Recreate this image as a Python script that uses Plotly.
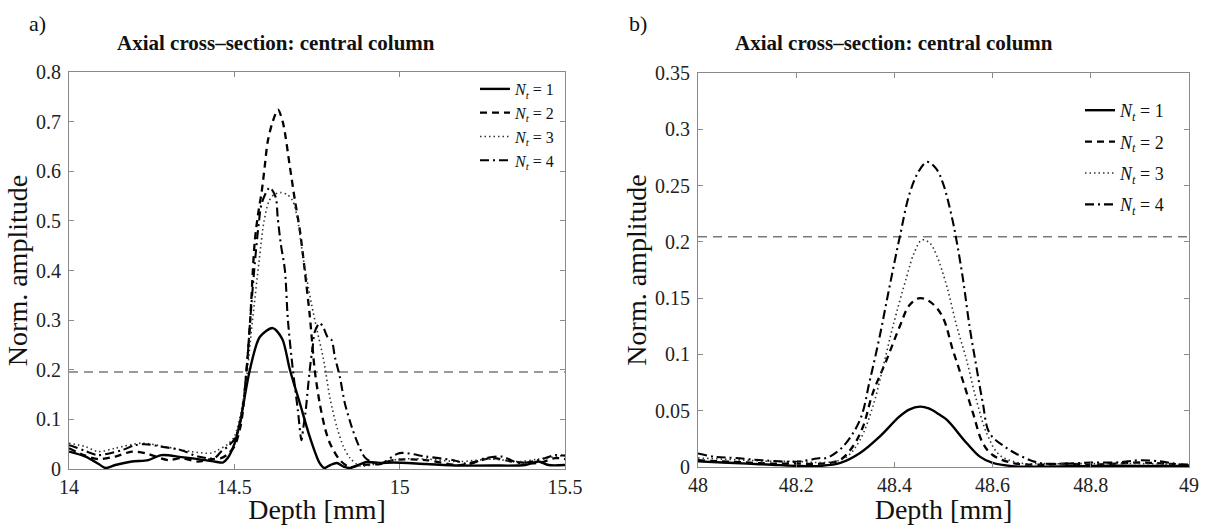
import plotly.graph_objects as go

# ---------------- panel a): depth 14 - 15.5 mm ----------------
a_depth_nt1 = [14.00, 14.05, 14.09, 14.11, 14.14, 14.19, 14.24, 14.28, 14.34, 14.39, 14.44, 14.465,
               14.48, 14.50, 14.517, 14.547, 14.577, 14.616, 14.645, 14.668, 14.698, 14.728, 14.758,
               14.773, 14.79, 14.81, 14.83, 14.85, 14.90, 14.94, 14.98, 15.08, 15.18, 15.28, 15.38,
               15.42, 15.45, 15.50]
a_amp_nt1 = [0.035, 0.025, 0.010, 0.002, 0.008, 0.015, 0.018, 0.028, 0.024, 0.020, 0.015, 0.013,
             0.022, 0.050, 0.093, 0.200, 0.266, 0.284, 0.262, 0.200, 0.133, 0.065, 0.012,
             0.002, 0.008, 0.012, 0.005, 0.002, 0.014, 0.012, 0.013, 0.010, 0.007, 0.007, 0.008,
             0.015, 0.008, 0.008]

a_depth_nt2 = [14.00, 14.045, 14.088, 14.14, 14.19, 14.23, 14.30, 14.34, 14.39, 14.43, 14.46, 14.48,
               14.50, 14.52, 14.537, 14.548, 14.556, 14.562, 14.571, 14.583, 14.592, 14.601, 14.616,
               14.632, 14.647, 14.668, 14.683, 14.698, 14.713, 14.728, 14.743, 14.758, 14.775,
               14.789, 14.819, 14.849, 14.88, 14.94, 14.98, 15.08, 15.18, 15.28, 15.34, 15.42,
               15.47, 15.50]
a_amp_nt2 = [0.042, 0.028, 0.020, 0.025, 0.035, 0.032, 0.018, 0.022, 0.015, 0.020, 0.022, 0.030,
             0.045, 0.090, 0.200, 0.300, 0.400, 0.460, 0.510, 0.560, 0.610, 0.660, 0.700,
             0.724, 0.698, 0.609, 0.542, 0.482, 0.400, 0.310, 0.200, 0.133, 0.080,
             0.052, 0.018, 0.004, 0.008, 0.010, 0.018, 0.018, 0.008, 0.022, 0.015, 0.012,
             0.022, 0.020]

a_depth_nt3 = [14.00, 14.05, 14.088, 14.14, 14.22, 14.29, 14.37, 14.43, 14.45, 14.48, 14.50, 14.53,
               14.555, 14.575, 14.59, 14.605, 14.62, 14.64, 14.66, 14.677, 14.692, 14.707, 14.72,
               14.734, 14.75, 14.77, 14.79, 14.81, 14.83, 14.85, 14.88, 14.94, 15.00, 15.08,
               15.18, 15.28, 15.36, 15.42, 15.50]
a_amp_nt3 = [0.052, 0.045, 0.035, 0.042, 0.052, 0.045, 0.035, 0.032, 0.038, 0.050, 0.065, 0.150,
             0.300, 0.420, 0.500, 0.540, 0.553, 0.557, 0.553, 0.540, 0.500, 0.430, 0.380,
             0.330, 0.280, 0.220, 0.140, 0.085, 0.045, 0.022, 0.006, 0.012, 0.020, 0.020,
             0.015, 0.020, 0.015, 0.020, 0.028]

a_depth_nt4 = [14.00, 14.015, 14.05, 14.088, 14.16, 14.20, 14.23, 14.28, 14.34, 14.39, 14.44, 14.46,
               14.48, 14.50, 14.52, 14.537, 14.548, 14.56, 14.574, 14.583, 14.607, 14.625, 14.631,
               14.64, 14.653, 14.662, 14.677, 14.692, 14.703, 14.708, 14.716, 14.728, 14.737,
               14.743, 14.758, 14.768, 14.782, 14.794, 14.804, 14.819, 14.834, 14.855, 14.873,
               14.894, 14.915, 14.94, 15.00, 15.08, 15.16, 15.21, 15.26, 15.31, 15.36, 15.42,
               15.47, 15.50]
a_amp_nt4 = [0.048, 0.045, 0.036, 0.028, 0.038, 0.048, 0.050, 0.045, 0.038, 0.025, 0.022, 0.035,
             0.045, 0.060, 0.100, 0.200, 0.300, 0.400, 0.496, 0.536, 0.567, 0.548, 0.508,
             0.456, 0.400, 0.300, 0.200, 0.119, 0.058, 0.080, 0.119, 0.200, 0.246,
             0.276, 0.294, 0.287, 0.266, 0.260, 0.226, 0.186, 0.133, 0.085, 0.052,
             0.024, 0.014, 0.010, 0.032, 0.025, 0.018, 0.010, 0.022, 0.025, 0.012, 0.018,
             0.028, 0.027]

a_threshold = 0.1955
a_xticks = [14, 14.5, 15, 15.5]
a_xticklabels = ["14", "14.5", "15", "15.5"]
a_yticks = [0, 0.1, 0.2, 0.3, 0.4, 0.5, 0.6, 0.7, 0.8]
a_yticklabels = ["0", "0.1", "0.2", "0.3", "0.4", "0.5", "0.6", "0.7", "0.8"]

# ---------------- panel b): depth 48 - 49 mm ----------------
b_depth_nt1 = [48.00, 48.05, 48.10, 48.15, 48.20, 48.25, 48.29, 48.33, 48.37, 48.41, 48.43, 48.452,
               48.47, 48.49, 48.507, 48.547, 48.574, 48.60, 48.64, 48.70, 48.80, 48.90, 49.00]
b_amp_nt1 = [0.005, 0.004, 0.003, 0.002, 0.001, 0.001, 0.0036, 0.0124, 0.027, 0.0447, 0.051, 0.0536,
             0.052, 0.047, 0.0418, 0.0213, 0.0092, 0.0036, 0.0008, 0.0003, 0.001, 0.001, 0.001]

b_depth_nt2 = [48.00, 48.05, 48.10, 48.15, 48.20, 48.25, 48.289, 48.315, 48.336, 48.356, 48.384,
               48.411, 48.431, 48.452, 48.475, 48.498, 48.519, 48.539, 48.56, 48.58, 48.60, 48.64,
               48.70, 48.75, 48.80, 48.85, 48.90, 48.95, 49.00]
b_amp_nt2 = [0.006, 0.005, 0.004, 0.003, 0.003, 0.003, 0.0062, 0.018, 0.0358, 0.0657, 0.095,
             0.125, 0.144, 0.150, 0.146, 0.1335, 0.104, 0.0773, 0.048, 0.0213, 0.0107, 0.0036,
             0.002, 0.003, 0.002, 0.003, 0.004, 0.003, 0.002]

b_depth_nt3 = [48.00, 48.05, 48.10, 48.15, 48.20, 48.24, 48.275, 48.303, 48.33, 48.356, 48.377,
               48.397, 48.425, 48.44, 48.456, 48.472, 48.486, 48.507, 48.527, 48.547, 48.567, 48.588,
               48.614, 48.655, 48.70, 48.80, 48.90, 49.00]
b_amp_nt3 = [0.008, 0.007, 0.006, 0.005, 0.005, 0.004, 0.0047, 0.009, 0.024, 0.0536, 0.089,
             0.125, 0.169, 0.190, 0.2017, 0.199, 0.188, 0.160, 0.125, 0.095, 0.0595, 0.030,
             0.0107, 0.0036, 0.003, 0.003, 0.003, 0.002]

b_depth_nt4 = [48.00, 48.035, 48.075, 48.13, 48.20, 48.25, 48.262, 48.295, 48.33, 48.35, 48.37,
               48.39, 48.411, 48.431, 48.45, 48.467, 48.485, 48.499, 48.517, 48.527, 48.54, 48.553,
               48.567, 48.58, 48.594, 48.628, 48.66, 48.696, 48.75, 48.80, 48.85, 48.875, 48.90,
               48.94, 48.97, 49.00]
b_amp_nt4 = [0.012, 0.009, 0.008, 0.006, 0.0047, 0.008, 0.008, 0.018, 0.042, 0.077, 0.116,
             0.160, 0.2046, 0.243, 0.263, 0.271, 0.265, 0.252, 0.222, 0.200, 0.166, 0.125,
             0.089, 0.057, 0.030, 0.017, 0.0092, 0.0036, 0.003, 0.004, 0.004, 0.005, 0.006,
             0.005, 0.003, 0.001]

b_threshold = 0.2046
b_xticks = [48, 48.2, 48.4, 48.6, 48.8, 49]
b_xticklabels = ["48", "48.2", "48.4", "48.6", "48.8", "49"]
b_yticks = [0, 0.05, 0.1, 0.15, 0.2, 0.25, 0.3, 0.35]
b_yticklabels = ["0", "0.05", "0.1", "0.15", "0.2", "0.25", "0.3", "0.35"]

series_names = ["<i>N</i><sub><i>t</i></sub> = 1", "<i>N</i><sub><i>t</i></sub> = 2",
                "<i>N</i><sub><i>t</i></sub> = 3", "<i>N</i><sub><i>t</i></sub> = 4"]

panel_title = "Axial cross–section: central column"

# line styles: solid, dashed, dotted, dash-dot
LINE_STYLES = [
    dict(color="#000000", width=2.4, dash="solid"),
    dict(color="#000000", width=2.3, dash="7px,5px"),
    dict(color="#333333", width=1.6, dash="1.5px,3px"),
    dict(color="#000000", width=2.1, dash="9px,4px,2px,4px"),
]

SERIF = "Liberation Serif"
W, H = 1211, 525
AXIS_GREY = "#8a8a8a"

fig = go.Figure()

panel_a = [(a_depth_nt1, a_amp_nt1), (a_depth_nt2, a_amp_nt2),
           (a_depth_nt3, a_amp_nt3), (a_depth_nt4, a_amp_nt4)]
panel_b = [(b_depth_nt1, b_amp_nt1), (b_depth_nt2, b_amp_nt2),
           (b_depth_nt3, b_amp_nt3), (b_depth_nt4, b_amp_nt4)]

for i, (x, y) in enumerate(panel_a):
    fig.add_trace(go.Scatter(x=x, y=y, mode="lines", name=series_names[i],
                             line=dict(shape="spline", smoothing=0.8, **LINE_STYLES[i]),
                             xaxis="x", yaxis="y", legend="legend"))

for i, (x, y) in enumerate(panel_b):
    fig.add_trace(go.Scatter(x=x, y=y, mode="lines", name=series_names[i],
                             legendgroup=f"b{i}",
                             line=dict(shape="spline", smoothing=1.0, **LINE_STYLES[i]),
                             xaxis="x2", yaxis="y2", legend="legend2"))

# horizontal reference levels
for xr, yr, thr in (("x domain", "y", a_threshold), ("x2 domain", "y2", b_threshold)):
    fig.add_shape(type="line", xref=xr, yref=yr, x0=0, x1=1, y0=thr, y1=thr,
                  line=dict(color="#7a7a7a", width=1.5, dash="9px,6px"), layer="below")


def x_axis(domain, rng, ticks, labels, anchor):
    return dict(domain=domain, range=rng, anchor=anchor, tickvals=ticks, ticktext=labels,
                showline=True, linecolor=AXIS_GREY, linewidth=1, mirror="ticks",
                ticks="inside", ticklen=5, tickcolor=AXIS_GREY, tickwidth=1,
                showgrid=False, zeroline=False, automargin=False,
                tickfont=dict(family=SERIF, size=20, color="#222222"),
                title=dict(text="Depth [mm]", standoff=0,
                           font=dict(family=SERIF, size=28, color="#111111")))


def y_axis(domain, rng, ticks, labels, anchor):
    return dict(domain=domain, range=rng, anchor=anchor, tickvals=ticks, ticktext=labels,
                showline=True, linecolor=AXIS_GREY, linewidth=1, mirror="ticks",
                ticks="inside", ticklen=5, tickcolor=AXIS_GREY, tickwidth=1,
                showgrid=False, zeroline=False, automargin=False, ticklabelstandoff=3,
                tickfont=dict(family=SERIF, size=20, color="#222222"),
                title=dict(text="Norm. amplitude", standoff=0,
                           font=dict(family=SERIF, size=28, color="#111111")))


fig.update_layout(
    width=W, height=H,
    margin=dict(l=0, r=0, t=0, b=0),
    paper_bgcolor="white", plot_bgcolor="white",
    xaxis=x_axis([69 / W, 565 / W], [14, 15.5], a_xticks, a_xticklabels, "y"),
    yaxis=y_axis([1 - 469 / H, 1 - 72 / H], [0, 0.8], a_yticks, a_yticklabels, "x"),
    xaxis2=x_axis([698 / W, 1189 / W], [48, 49], b_xticks, b_xticklabels, "y2"),
    yaxis2=y_axis([1 - 467 / H, 1 - 73 / H], [0, 0.35], b_yticks, b_yticklabels, "x2"),
    legend=dict(x=560 / W, y=1 - 72 / H, xanchor="right", yanchor="top",
                bgcolor="rgba(0,0,0,0)", borderwidth=0, itemwidth=30,
                font=dict(family=SERIF, size=16, color="#111111")),
    legend2=dict(x=1170 / W, y=1 - 92 / H, xanchor="right", yanchor="top",
                 bgcolor="rgba(0,0,0,0)", borderwidth=0, itemwidth=30, tracegroupgap=5,
                 font=dict(family=SERIF, size=18, color="#111111")),
    showlegend=True,
)

# panel letters and titles
for txt, xc in (("a)", 27), ("b)", 627)):
    fig.add_annotation(text=txt, xref="paper", yref="paper", x=xc / W, y=1 - 24 / H,
                       xanchor="left", yanchor="middle", showarrow=False,
                       font=dict(family=SERIF, size=22, color="#111111"))
for xc in (276, 894):
    fig.add_annotation(text=f"<b>{panel_title}</b>", xref="paper", yref="paper",
                       x=xc / W, y=1 - 43 / H, xanchor="center", yanchor="middle",
                       showarrow=False, font=dict(family=SERIF, size=21, color="#111111"))

fig.write_html("out.html")
